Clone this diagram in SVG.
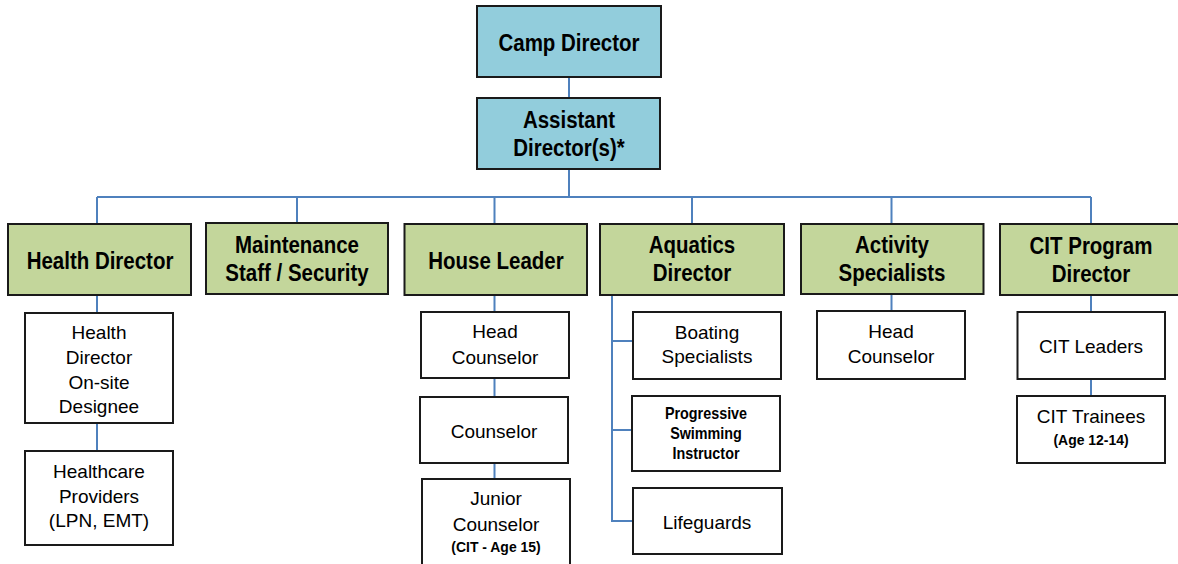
<svg xmlns="http://www.w3.org/2000/svg" width="1178" height="564" viewBox="0 0 1178 564">
<style>
.bg{fill:#ffffff}
.blue{fill:#92CDDC;stroke:#1a1a1a;stroke-width:2}
.green{fill:#C3D69B;stroke:#1a1a1a;stroke-width:2}
.white{fill:#ffffff;stroke:#1a1a1a;stroke-width:2}
.conn{fill:none;stroke:#4F81BD;stroke-width:2}
text{font-family:"Liberation Sans",Arial,sans-serif;fill:#000;text-anchor:middle}
.h{font-size:23px;font-weight:bold}
.w{font-size:19px}
.s{font-size:15px;font-weight:bold}
.p{font-size:16.5px;font-weight:bold}
</style>
<rect class="bg" x="0" y="0" width="1178" height="564"/>
<g id="connectors">
<path class="conn" d="M569 77V98M569 169V197M97 197H1091M97 197V224M297 197V223M494.5 197V224M692 197V224M891.5 197V224M1091 197V224"/>
<path class="conn" d="M97 295V313M97 423V451"/>
<path class="conn" d="M494.5 295V312M494.5 378V397M494.5 463V479"/>
<path class="conn" d="M612 295V521H633M612 341H633M612 430H632"/>
<path class="conn" d="M891.5 294V311"/>
<path class="conn" d="M1091 295V312M1091 379V396"/>
</g>
<g id="camp-director">
<rect class="blue" x="477" y="6" width="184" height="71"/>
<text class="h" transform="translate(569 51) scale(0.89 1)">Camp Director</text>
</g>
<g id="assistant-director">
<rect class="blue" x="477" y="98" width="183" height="71"/>
<text class="h" transform="translate(569 128) scale(0.89 1)">Assistant</text>
<text class="h" transform="translate(569 156) scale(0.89 1)">Director(s)*</text>
</g>
<g id="health-director">
<rect class="green" x="8" y="224" width="183" height="71"/>
<text class="h" transform="translate(100 269) scale(0.89 1)">Health Director</text>
</g>
<g id="maintenance">
<rect class="green" x="206" y="223" width="182" height="71"/>
<text class="h" transform="translate(297 253) scale(0.89 1)">Maintenance</text>
<text class="h" transform="translate(297 281) scale(0.89 1)">Staff / Security</text>
</g>
<g id="house-leader">
<rect class="green" x="404.5" y="224" width="182.5" height="71"/>
<text class="h" transform="translate(496 269) scale(0.89 1)">House Leader</text>
</g>
<g id="aquatics-director">
<rect class="green" x="600" y="224" width="184" height="71"/>
<text class="h" transform="translate(692 253) scale(0.89 1)">Aquatics</text>
<text class="h" transform="translate(692 281) scale(0.89 1)">Director</text>
</g>
<g id="activity-specialists">
<rect class="green" x="801" y="224" width="182.5" height="70"/>
<text class="h" transform="translate(892 253) scale(0.89 1)">Activity</text>
<text class="h" transform="translate(892 281) scale(0.89 1)">Specialists</text>
</g>
<g id="cit-program-director">
<rect class="green" x="1000" y="224" width="184" height="71"/>
<text class="h" transform="translate(1091 254) scale(0.89 1)">CIT Program</text>
<text class="h" transform="translate(1091 282) scale(0.89 1)">Director</text>
</g>
<g id="health-designee">
<rect class="white" x="25" y="313" width="148" height="110"/>
<text class="w" x="99" y="339">Health</text>
<text class="w" x="99" y="364">Director</text>
<text class="w" x="99" y="389">On-site</text>
<text class="w" x="99" y="413">Designee</text>
</g>
<g id="healthcare-providers">
<rect class="white" x="25" y="451" width="148" height="94"/>
<text class="w" x="99" y="478">Healthcare</text>
<text class="w" x="99" y="503">Providers</text>
<text class="w" x="99" y="527">(LPN, EMT)</text>
</g>
<g id="house-head-counselor">
<rect class="white" x="421" y="312" width="148" height="66"/>
<text class="w" x="495" y="338">Head</text>
<text class="w" x="495" y="364">Counselor</text>
</g>
<g id="counselor">
<rect class="white" x="420" y="397" width="148" height="66"/>
<text class="w" x="494" y="438">Counselor</text>
</g>
<g id="junior-counselor">
<rect class="white" x="422" y="479" width="148" height="100"/>
<text class="w" x="496" y="505">Junior</text>
<text class="w" x="496" y="531">Counselor</text>
<text class="s" transform="translate(496 552) scale(0.93 1)">(CIT - Age 15)</text>
</g>
<g id="boating-specialists">
<rect class="white" x="633" y="312" width="148" height="67"/>
<text class="w" x="707" y="339">Boating</text>
<text class="w" x="707" y="363">Specialists</text>
</g>
<g id="progressive-swimming">
<rect class="white" x="632" y="396" width="148" height="75"/>
<text class="p" transform="translate(706 419) scale(0.87 1)">Progressive</text>
<text class="p" transform="translate(706 439) scale(0.87 1)">Swimming</text>
<text class="p" transform="translate(706 459) scale(0.87 1)">Instructor</text>
</g>
<g id="lifeguards">
<rect class="white" x="633" y="488" width="149" height="66"/>
<text class="w" x="707" y="529">Lifeguards</text>
</g>
<g id="activity-head-counselor">
<rect class="white" x="817" y="311" width="148" height="68"/>
<text class="w" x="891" y="338">Head</text>
<text class="w" x="891" y="363">Counselor</text>
</g>
<g id="cit-leaders">
<rect class="white" x="1017.5" y="312" width="147.5" height="67"/>
<text class="w" x="1091" y="353">CIT Leaders</text>
</g>
<g id="cit-trainees">
<rect class="white" x="1017" y="396" width="148" height="67"/>
<text class="w" x="1091" y="423">CIT Trainees</text>
<text class="s" transform="translate(1091 445) scale(0.93 1)">(Age 12-14)</text>
</g>
</svg>
